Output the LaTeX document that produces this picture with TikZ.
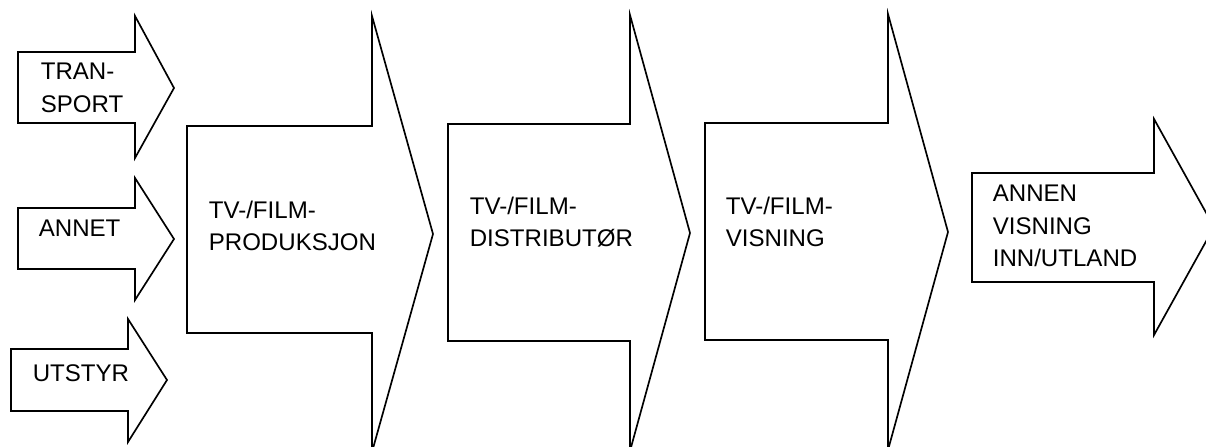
\documentclass[tikz,border=0pt]{standalone}
\usepackage{fontspec}
\setmainfont{Liberation Sans}
\usetikzlibrary{positioning}

\begin{document}
\begin{tikzpicture}[x=0.02cm, y=-0.02cm, line width=0.95pt,
    lbl/.style={anchor=west, align=left, inner sep=0pt, font=\fontsize{13.7}{18.5}\selectfont}]
  \useasboundingbox (0,0) rectangle (1206,446);
  \clip (0,0) rectangle (1206,446);
  % blokkpiler (1 enhet = 1 px): venstre / kropp topp / kropp bunn / hode x / hode topp / hode bunn / spiss x / spiss y
  \foreach \lx/\bt/\bb/\hx/\hu/\hd/\tx/\ty in {18/52/123/135/16/158/174/88, 18/208/269/135/178/300/174/239,
      11/349/411/128/319/442/167/380, 187/126/333/372/16/452/433/234, 448/124/341/630/15/451/690/233,
      705/123/340/888/14/450/948/232, 972/173/282/1154/119/335/1214/227}{
    \draw[fill=white] (\lx,\bt) -- (\hx,\bt) -- (\hx,\hu) -- (\tx,\ty) -- (\hx,\hd) -- (\hx,\bb) -- (\lx,\bb) -- cycle;
  }
  % tekster
  \node[lbl] (transport) at (40,88) {TRAN-\\SPORT};
  \node[lbl] (annet) at (38,228) {ANNET};
  \node[lbl] (utstyr) at (32,373) {UTSTYR};
  \node[lbl] (produksjon) at (208,226) {TV-/FILM-\\PRODUKSJON};
  \node[lbl] (distributor) at (469,222) {TV-/FILM-\\DISTRIBUTØR};
  \node[lbl] (visning) at (725,222) {TV-/FILM-\\VISNING};
  \node[lbl] (annen) at (992,226) {ANNEN\\VISNING\\INN/UTLAND};
\end{tikzpicture}
\end{document}
